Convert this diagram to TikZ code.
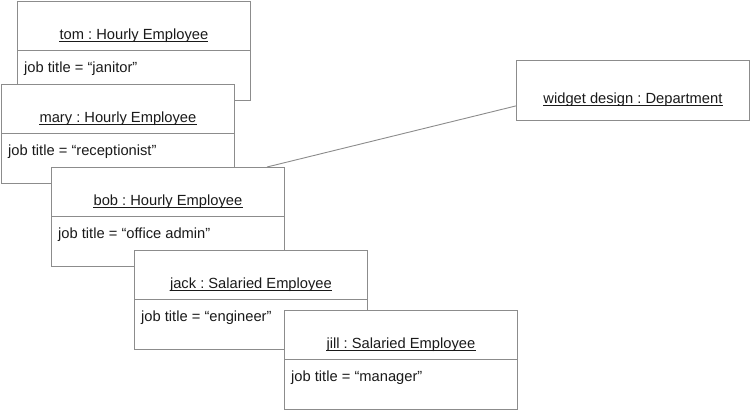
\documentclass[tikz,border=0pt]{standalone}
\usepackage{fontspec}
\setmainfont{Liberation Sans}
\usetikzlibrary{calc}
\frenchspacing
\definecolor{edge}{HTML}{8C8C8C}
\definecolor{ink}{HTML}{1A1A1A}
\tikzset{
  objbox/.style={draw=edge, line width=0.9pt, fill=white, anchor=north west, inner sep=0pt, minimum width=233pt, minimum height=99pt},
  deptbox/.style={objbox, minimum height=60pt},
  titletext/.style={anchor=base, inner sep=0pt, text=ink, font=\fontsize{14.7}{17}\selectfont\frenchspacing},
  attrtext/.style={anchor=base west, inner sep=0pt, text=ink, font=\fontsize{14.7}{17}\selectfont\frenchspacing},
  uline/.style={draw=ink, line width=0.8pt},
  divider/.style={draw=edge, line width=0.9pt},
  link/.style={draw=edge, line width=0.9pt}
}
\newcommand\umlobj[5]{%
  \node[objbox] (#1) at (#2,#3) {};
  \node[titletext] (#1-t) at ($(#1.north)+(0,38)$) {#4};
  \draw[uline] ($(#1-t.base west)+(0,2.2)$) -- ($(#1-t.base east)+(0,2.2)$);
  \draw[divider] ($(#1.north west)+(0,49)$) -- ($(#1.north east)+(0,49)$);
  \node[attrtext] (#1-a) at ($(#1.north west)+(7,71)$) {#5};
}
\begin{document}
\begin{tikzpicture}[x=1pt,y=-1pt]
\useasboundingbox[fill=white] (0,0) rectangle (750,410);
\umlobj{tom}{17}{1}{tom : Hourly Employee}{job title = “janitor”}
\umlobj{mary}{1}{84}{mary : Hourly Employee}{job title = “receptionist”}
\umlobj{bob}{51}{167}{bob : Hourly Employee}{job title = “office admin”}
\umlobj{jack}{134}{250}{jack : Salaried Employee}{job title = “engineer”}
\umlobj{jill}{284}{310}{jill : Salaried Employee}{job title = “manager”}
\node[deptbox] (widget) at (516,60) {};
\node[titletext] (widget-t) at ($(widget.north)+(0,43)$) {widget design : Department};
\draw[uline] ($(widget-t.base west)+(0,2.2)$) -- ($(widget-t.base east)+(0,2.2)$);
\draw[link] ([xshift=216pt]bob.north west) -- ([yshift=15pt]widget.south west);
\end{tikzpicture}
\end{document}
